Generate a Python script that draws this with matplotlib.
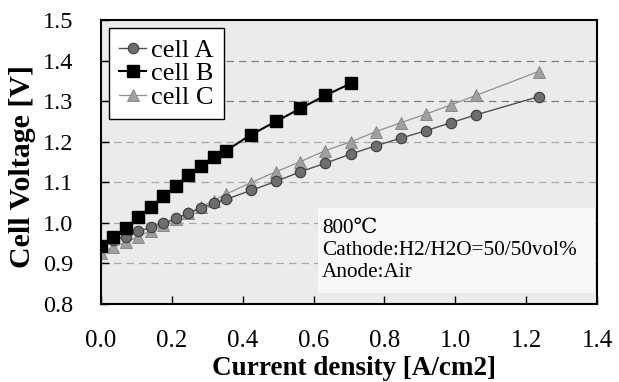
import matplotlib
matplotlib.use("Agg")
import matplotlib.pyplot as plt
from matplotlib.patches import Rectangle

x_common = [0.0, 0.035, 0.070, 0.105, 0.141, 0.176, 0.212, 0.246, 0.282, 0.318, 0.353,
            0.423, 0.494, 0.563, 0.633, 0.706, 0.776, 0.847, 0.917, 0.988, 1.058, 1.235]
cell_a_v = [0.944, 0.958, 0.966, 0.979, 0.989, 0.999, 1.011, 1.024, 1.036, 1.048, 1.058,
            1.080, 1.102, 1.126, 1.147, 1.170, 1.190, 1.209, 1.227, 1.247, 1.266, 1.311]
cell_b_x = [0.0, 0.035, 0.070, 0.105, 0.141, 0.176, 0.212, 0.246, 0.282, 0.318, 0.353,
            0.423, 0.494, 0.563, 0.633, 0.706]
cell_b_v = [0.944, 0.965, 0.987, 1.014, 1.039, 1.065, 1.091, 1.117, 1.141, 1.163, 1.178,
            1.217, 1.250, 1.282, 1.314, 1.344]
cell_c_v = [0.925, 0.940, 0.952, 0.966, 0.981, 0.995, 1.009, 1.024, 1.039, 1.055, 1.071,
            1.099, 1.126, 1.151, 1.178, 1.200, 1.225, 1.247, 1.268, 1.291, 1.314, 1.373]
x_ticks = [0.0, 0.2, 0.4, 0.6, 0.8, 1.0, 1.2, 1.4]
y_ticks = [0.8, 0.9, 1.0, 1.1, 1.2, 1.3, 1.4, 1.5]

plt.rcParams['font.family'] = ['Liberation Serif', 'DejaVu Serif']

fig = plt.figure(figsize=(6.19, 3.82), dpi=100)
ax = fig.add_axes([101/619, 1 - 304/382, 496/619, 284/382])
ax.set_facecolor('#ebebeb')

for y in [0.9, 1.0, 1.1, 1.2, 1.3, 1.4]:
    ax.axhline(y, color='#808080' if y >= 1.3 else '#a8a8a8', lw=0.9, ls=(0, (6, 4)), zorder=1)

ax.plot(x_common, cell_a_v, color='#505050', lw=1.0, marker='o', ms=7.5,
        mfc='#6e6e6e', mec='#3c3c3c', mew=0.8, label='cell A', zorder=3)
ax.plot(cell_b_x, cell_b_v, color='black', lw=1.5, marker='s', ms=8,
        mfc='black', mec='black', label='cell B', zorder=4)
ax.plot(x_common, cell_c_v, color='#909090', lw=0.9, marker='^', ms=8,
        mfc='#a0a0a0', mec='#808080', mew=0.6, label='cell C', zorder=2)

ax.set_xlim(0, 1.4)
ax.set_ylim(0.8, 1.5)
ax.set_xticks(x_ticks)
ax.set_yticks(y_ticks)
ax.set_xticklabels([f"{v:.1f}" for v in x_ticks])
ax.set_yticklabels([f"{v:.1f}" for v in y_ticks])
ax.tick_params(axis='both', direction='in', length=6, width=1)
ax.tick_params(axis='x', pad=19, labelsize=18)
ax.tick_params(axis='y', pad=20, labelsize=17.5)
for s in ax.spines.values():
    s.set_linewidth(1.5)

fig.text(354/619, 1 - 375/382, 'Current density [A/cm2]', fontsize=19.5,
         fontweight='bold', ha='center', va='baseline')
fig.text(22/619, 1 - 166/382, 'Cell Voltage [V]', fontsize=21.5,
         fontweight='bold', ha='center', va='center', rotation=90)

leg = ax.legend(loc='upper left', fontsize=19, frameon=True, fancybox=False,
                edgecolor='black', framealpha=1, borderpad=0.4, labelspacing=0.0,
                handlelength=1.0, handletextpad=0.2, borderaxespad=0.3)
leg.get_frame().set_linewidth(1.0)

ax.add_patch(Rectangle((0.4375, 0.039), 0.5585, 0.299, transform=ax.transAxes,
                       facecolor='#f8f8f8', edgecolor='none', zorder=5))
ax.text(0.446, 0.19, '800\u2103\nCathode:H2/H2O=50/50vol%\nAnode:Air',
        transform=ax.transAxes, fontsize=15.3, va='center', ha='left', linespacing=1.22,
        zorder=6)

fig.savefig('out.png', dpi=100)
